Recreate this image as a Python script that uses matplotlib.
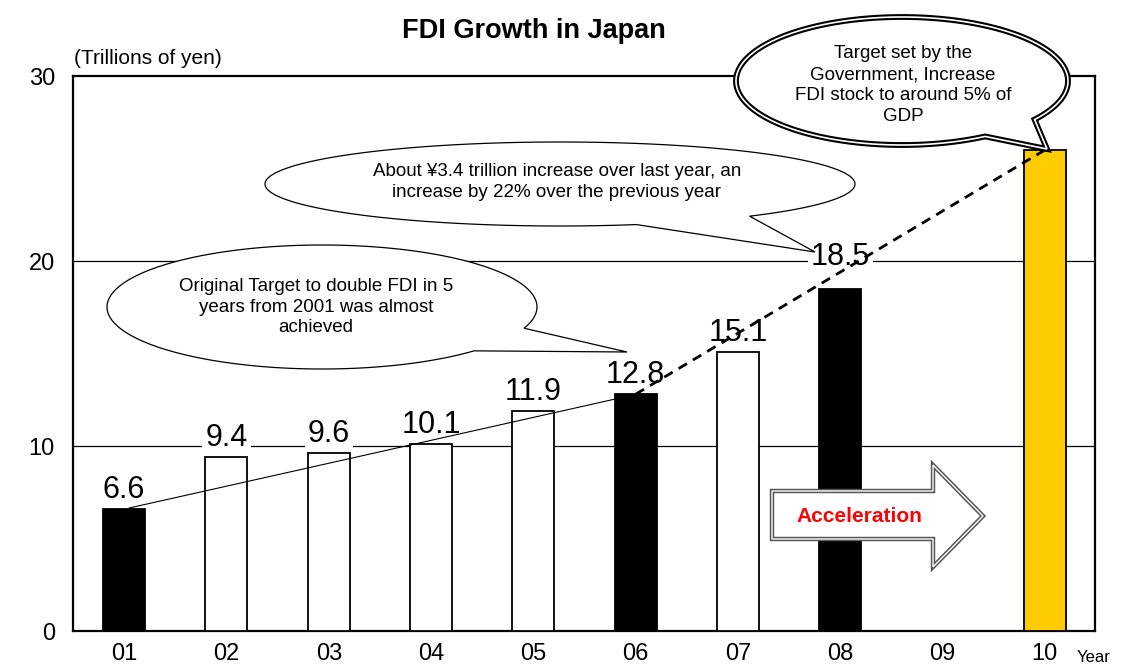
import numpy as np
import matplotlib
matplotlib.use("Agg")
import matplotlib.pyplot as plt
from matplotlib.patches import Polygon

plt.rcParams['font.family'] = ['Liberation Sans', 'DejaVu Sans']

# ---------------- data ----------------
years = ['01', '02', '03', '04', '05', '06', '07', '08', '09', '10']
fdi_stock = [6.6, 9.4, 9.6, 10.1, 11.9, 12.8, 15.1, 18.5, None, 26.0]
value_labels = ['6.6', '9.4', '9.6', '10.1', '11.9', '12.8', '15.1', '18.5', '', '']
bar_kind = ['black', 'white', 'white', 'white', 'white', 'black', 'white', 'black', 'none', 'gold']
yticks = [0, 10, 20, 30]

title = 'FDI Growth in Japan'
unit_label = '(Trillions of yen)'
callout_original = 'Original Target to double FDI in 5\nyears from 2001 was almost\nachieved'
callout_increase = 'About \u00a53.4 trillion increase over last year, an\nincrease by 22% over the previous year'
callout_target = 'Target set by the\nGovernment, Increase\nFDI stock to around 5% of\nGDP'

# ---------------- figure ----------------
W, H = 1122, 664
fig = plt.figure(figsize=(W / 100, H / 100), dpi=100)
ax = fig.add_axes([73 / W, 1 - 631 / H, (1095 - 73) / W, (631 - 76) / H])

def px(x, y):
    return (x / W, 1 - y / H)

colors = {'black': ('black', 'black'), 'white': ('white', 'black'),
          'gold': ('#FFCC00', 'black')}
x = np.arange(len(years))
for i, (v, k) in enumerate(zip(fdi_stock, bar_kind)):
    if v is None:
        continue
    fc, ec = colors[k]
    ax.bar(x[i], v, width=0.41, color=fc, edgecolor=ec, linewidth=1.3, zorder=3)

ax.set_xlim(-0.5, 9.49)
ax.set_ylim(0, 30)
ax.set_yticks(yticks)
ax.set_xticks(x)
ax.set_xticklabels(years)
ax.tick_params(axis='y', length=0, pad=13, labelsize=17)
ax.tick_params(axis='x', length=0, pad=9, labelsize=17)
for s in ax.spines.values():
    s.set_linewidth(1.6)
    s.set_color('black')
for g in [10, 20]:
    ax.axhline(g, color='black', linewidth=0.9, zorder=1)

# value labels
extra = {7: 9}
for i, lab in enumerate(value_labels):
    if not lab:
        continue
    ax.annotate(lab, xy=(x[i], fdi_stock[i]), xytext=(0, 8 + extra.get(i, 0)),
                textcoords='offset points', ha='center', va='baseline',
                fontsize=22, zorder=5,
                bbox=dict(boxstyle='square,pad=0.1', fc='white', ec='none'))

# trend lines
ax.plot([x[0] + 0.05, x[5] - 0.15], [fdi_stock[0] + 0.05, fdi_stock[5] - 0.2],
        color='black', linewidth=0.8, zorder=6)
ax.plot([x[5], x[9]], [fdi_stock[5], fdi_stock[9]], color='black',
        linewidth=2.0, linestyle=(0, (3.5, 2.5)), zorder=6)

# ---------------- callouts ----------------
def callout(cx, cy, a, b, t1, t2, tip, lw=1.0, double=False, z=7):
    t = np.radians(np.linspace(t2, t1 + 360, 300))
    pts = [px(cx + a * np.cos(tt), cy + b * np.sin(tt)) for tt in t]
    pts.append(px(*tip))
    if double:
        p = Polygon(pts, closed=True, fc='white', ec='black', lw=4.2,
                    transform=fig.transFigure, zorder=z, joinstyle='miter')
        ax.add_patch(p); p.set_clip_on(False)
        p2 = Polygon(pts, closed=True, fc='none', ec='white', lw=1.2,
                     transform=fig.transFigure, zorder=z + 0.1, joinstyle='miter')
        ax.add_patch(p2); p2.set_clip_on(False)
    else:
        p = Polygon(pts, closed=True, fc='white', ec='black', lw=lw,
                    transform=fig.transFigure, zorder=z)
        ax.add_patch(p); p.set_clip_on(False)

callout(322, 307, 215, 62, 20, 45, (627, 352), lw=0.9)
callout(560, 184, 295, 42, 50, 75, (815, 252), lw=0.9)
callout(902, 81, 166, 64, 37, 60, (1047, 149), double=True, z=8)

tx = dict(ha='center', va='center', fontsize=13.5, linespacing=1.3, zorder=10)
fig.text(*px(316, 307), callout_original, **tx)
fig.text(*px(557, 182), callout_increase, **tx)
fig.text(*px(903, 85), callout_target, **tx)

# acceleration arrow
arrow_pts = [px(772, 491), px(933, 491), px(933, 465), px(983, 516),
             px(933, 567), px(933, 539), px(772, 539)]
a1 = Polygon(arrow_pts, closed=True, fc='white', ec='#555555', lw=3.2,
             transform=fig.transFigure, zorder=7, joinstyle='miter')
ax.add_patch(a1)
a2 = Polygon(arrow_pts, closed=True, fc='none', ec='white', lw=1.0,
             transform=fig.transFigure, zorder=7.1, joinstyle='miter')
ax.add_patch(a2)
fig.text(*px(859, 516), 'Acceleration', color='#FF0000', fontsize=15,
         fontweight='bold', ha='center', va='center', zorder=10)

# titles
fig.text(*px(534, 31), title, fontsize=19.5, fontweight='bold', ha='center', va='center')
fig.text(*px(74, 58), unit_label, fontsize=15, ha='left', va='center')
fig.text(*px(1077, 657), 'Year', fontsize=12, ha='left', va='center')

fig.savefig('out.png', dpi=100)
